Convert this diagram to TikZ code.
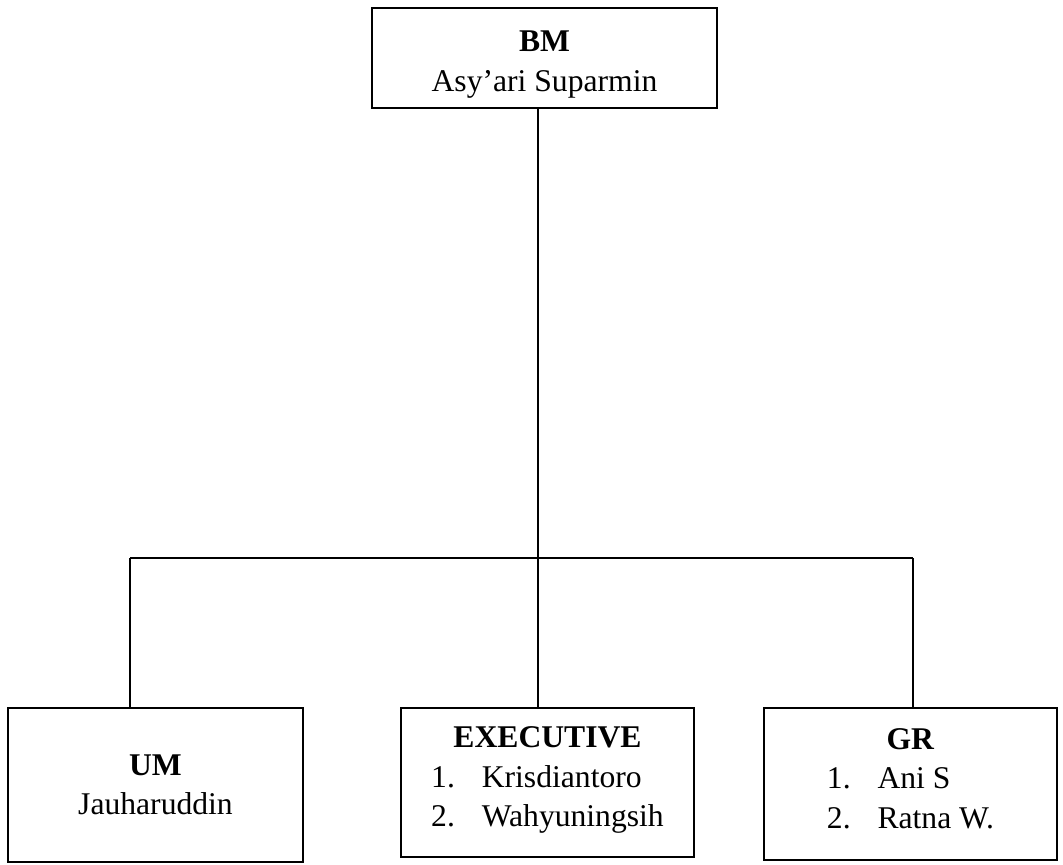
\documentclass[tikz,border=0pt]{standalone}
\usepackage{fontspec}
\setmainfont{Liberation Serif}
\usepackage{tikz}
\usetikzlibrary{positioning}
\tikzset{
	post/.style     = {draw, thick, rectangle, align=center, inner sep=0pt},
	junction/.style = {coordinate}
}
\newcommand{\staff}[2]{\begin{tabular}[t]{@{}l@{\hspace{0.85em}}l@{}}1.&#1\\2.&#2\end{tabular}}

\begin{document}
\begin{tikzpicture}[x=0.02cm, y=-0.02cm, thick, font=\fontsize{18}{22.5}\selectfont]
	\useasboundingbox (0,0) rectangle (1063,865);
	\draw
	node at (544.5,58) [post, minimum width=6.9cm, minimum height=2cm] (bm) {\rule{0pt}{19pt}\textbf{BM}\\ Asy’ari Suparmin}
	node at (155.5,785) [post, minimum width=5.9cm, minimum height=3.08cm] (um) {\textbf{UM}\\ Jauharuddin}
	node at (547.5,782.5) [post, minimum width=5.86cm, minimum height=2.98cm] (exec) {\textbf{EXECUTIVE}\\ \staff{Krisdiantoro}{Wahyuningsih}}
	node at (910.5,784) [post, minimum width=5.86cm, minimum height=3.04cm] (gr) {\textbf{GR}\\ \staff{Ani S}{Ratna W.}}
	node at (538,558) [junction] (bar) {}
	node at (130,558) [junction] (left) {}
	node at (913,558) [junction] (right) {}
	;
	\draw (bar |- bm.south)--(bar |- exec.north);
	\draw (left)--(right);
	\draw (left)--(left |- um.north);
	\draw (right)--(right |- gr.north);
\end{tikzpicture}
\end{document}
